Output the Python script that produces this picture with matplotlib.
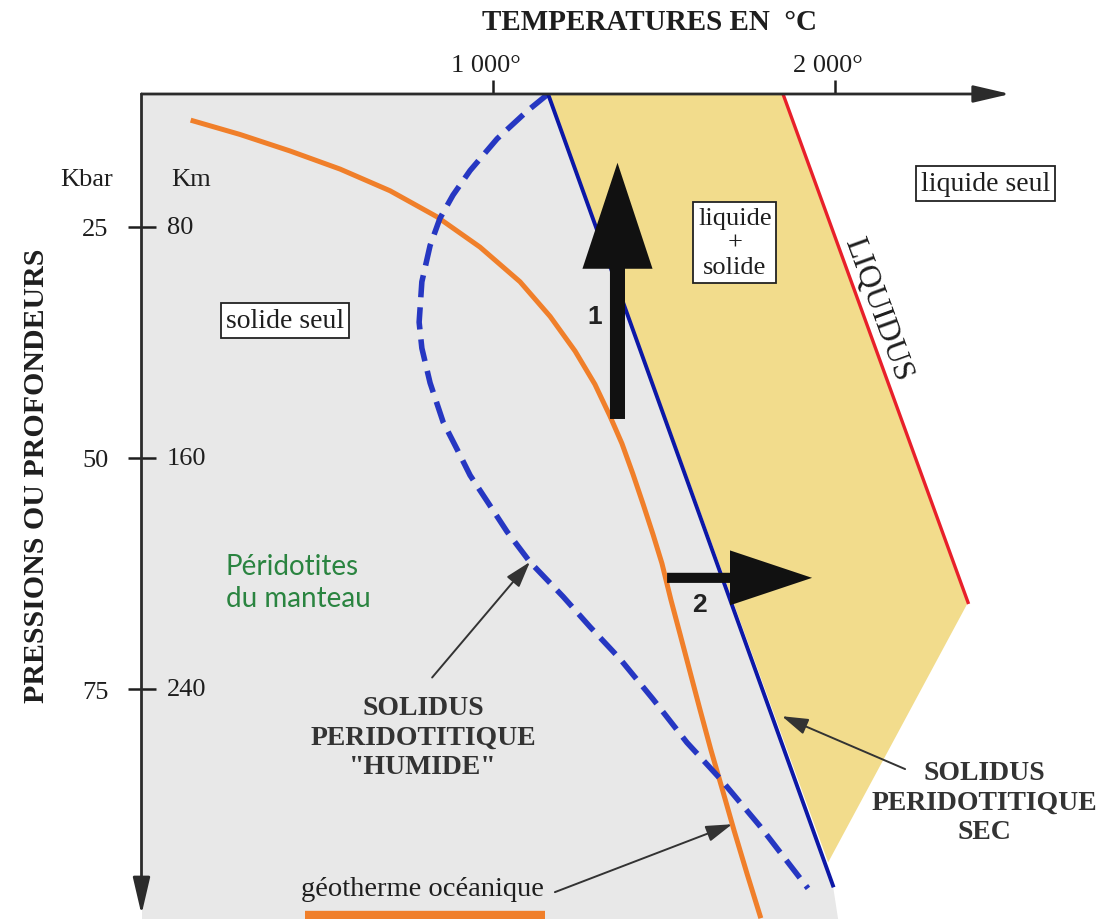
import matplotlib
matplotlib.use("Agg")
import matplotlib.pyplot as plt
from matplotlib.patches import Polygon, FancyArrow
from matplotlib.transforms import ScaledTranslation

# ---------------- data ----------------
temp_ticks = [1000, 2000]
temp_tick_labels = ["1 000°", "2 000°"]
depth_ticks_km = [80, 160, 240]
pressure_labels_kbar = ["25", "50", "75"]
depth_labels_km = ["80", "160", "240"]

# oceanic geotherm (temperature °C, depth km)
geotherm_T = [123, 260, 406, 553, 699, 836, 962, 1079, 1167, 1240, 1298, 1342,
              1377, 1409, 1439, 1468, 1494, 1520, 1547, 1576, 1605, 1637, 1670,
              1705, 1743, 1781]
geotherm_km = [43.3, 48, 53.7, 60, 67.5, 76.5, 87, 99, 111, 123, 134.5, 145.5,
               155, 165.5, 176, 186.5, 196.5, 209, 221, 234, 247, 261, 274.5,
               289, 304, 318.5]

# "wet" peridotite solidus
wet_solidus_T = [1161, 1099, 1012, 933, 883, 845, 816, 792, 784, 792, 816, 854,
                 895, 933, 983, 1041, 1108, 1205, 1284, 1371, 1468, 1567, 1664,
                 1781, 1921]
wet_solidus_km = [34, 40, 49.5, 60.5, 69, 77, 86.5, 99, 113, 122, 134, 147.5,
                  157, 166, 175, 185.5, 196, 208, 218.5, 229.5, 243.5, 258.5,
                  271, 287.5, 309]

# dry peridotite solidus and liquidus
dry_solidus_T = [1161, 1994]
dry_solidus_km = [34, 308]
liquidus_T = [1848, 2389]
liquidus_km = [34, 210]
melt_zone_T = [1161, 1848, 2389, 1980]
melt_zone_km = [34, 34, 210, 300]

# ---------------- layout ----------------
W, H = 1117, 920
T_MIN, T_MAX = -27.8, 2824.6
KM_TOP, KM_BOT = 34.0, 319.6
T_AXIS_END = 2512
KM_AXIS_END = 318

plt.rcParams["font.family"] = ["Liberation Serif", "DejaVu Serif"]
TXT = "#1e1e1e"

fig = plt.figure(figsize=(W / 100, H / 100), dpi=100)
fig.patch.set_facecolor("white")
ax = fig.add_axes([141.5 / W, 0, 1 - 141.5 / W, 1 - 95 / H])
ax.set_xlim(T_MIN, T_MAX)
ax.set_ylim(KM_BOT, KM_TOP)
ax.patch.set_alpha(0)
for s in ax.spines.values():
    s.set_visible(False)

# grey (solid only) background region
grey = Polygon([(T_MIN, KM_TOP), (dry_solidus_T[0], dry_solidus_km[0]),
                (dry_solidus_T[1], dry_solidus_km[1]), (dry_solidus_T[1] + 15, KM_BOT),
                (T_MIN, KM_BOT)], closed=True, fc="#e8e8e8", ec="none", zorder=0)
ax.add_patch(grey)

# melting zone
ax.add_patch(Polygon(list(zip(melt_zone_T, melt_zone_km)), closed=True,
                     fc="#f2dc8c", ec="none", zorder=1))

# curves
ax.plot(dry_solidus_T, dry_solidus_km, color="#0c17a6", lw=2.8, zorder=4)
ax.plot(liquidus_T, liquidus_km, color="#e8202a", lw=2.4, zorder=4)
ax.plot(geotherm_T, geotherm_km, color="#f07f2a", lw=3.6, zorder=3,
        solid_joinstyle="round")
ax.plot(wet_solidus_T, wet_solidus_km, color="#2637c2", lw=4, dashes=(4, 1.8), zorder=3)

# axes with arrows
ap_axis = dict(arrowstyle="-|>,head_length=1.5,head_width=0.35", color="#2b2b2b",
               lw=2, shrinkA=0, shrinkB=0, mutation_scale=15)
ax.annotate("", xy=(T_AXIS_END, KM_TOP), xytext=(T_MIN, KM_TOP),
            arrowprops=ap_axis, annotation_clip=False, zorder=6)
ax.annotate("", xy=(T_MIN, KM_AXIS_END), xytext=(T_MIN, KM_TOP),
            arrowprops=ap_axis, annotation_clip=False, zorder=6)

# ticks
ax.xaxis.tick_top()
ax.set_xticks(temp_ticks, temp_tick_labels)
ax.tick_params(axis="x", direction="out", length=10, width=1.8, pad=3,
               labelsize=19, colors=TXT)
for lbl in ax.get_xticklabels():
    lbl.set_transform(lbl.get_transform() + ScaledTranslation(-0.07, 0, fig.dpi_scale_trans))
ax.set_yticks(depth_ticks_km, pressure_labels_kbar)
ax.tick_params(axis="y", direction="inout", length=20, width=1.8, pad=14,
               labelsize=19, colors=TXT)
for d, lab in zip(depth_ticks_km, depth_labels_km):
    ax.text(47, d, lab, ha="left", va="center", fontsize=19, color=TXT)

fig.text(87 / W, 1 - 180 / H, "Kbar", ha="center", va="center", fontsize=19, color=TXT)
fig.text(191 / W, 1 - 180 / H, "Km", ha="center", va="center", fontsize=19, color=TXT)
fig.text(650 / W, 1 - 22 / H, "TEMPERATURES EN  °C", ha="center", va="center",
         fontsize=21, fontweight="bold", color=TXT)
fig.text(37 / W, 1 - 476 / H, "PRESSIONS OU PROFONDEURS", ha="center", va="center",
         rotation=90, fontsize=21.5, fontweight="bold", color=TXT)

# big arrows 1 and 2
ax.add_patch(FancyArrow(1364, 146.5, 0, 57.8 - 146.5, width=44, head_width=205,
                        head_length=36.7, length_includes_head=True,
                        fc="#111111", ec="none", zorder=5))
ax.add_patch(FancyArrow(1509, 201.5, 1933 - 1509, 0, width=3.5, head_width=19,
                        head_length=240, length_includes_head=True,
                        fc="#111111", ec="none", zorder=5))
ax.text(1298, 111, "1", ha="center", va="center", fontsize=19, fontweight="bold",
        family=["Liberation Sans"], color="#222", zorder=6)
ax.text(1605, 210.6, "2", ha="center", va="center", fontsize=19, fontweight="bold",
        family=["Liberation Sans"], color="#222", zorder=6)

# boxed labels
box = dict(boxstyle="square,pad=0.18", fc="white", ec="#222", lw=1.3)
ax.text(392, 112.5, "solide seul", ha="center", va="center", fontsize=20,
        color=TXT, bbox=box, zorder=6)
ax.text(1707, 85.5, "liquide\n+\nsolide", ha="center", va="center", fontsize=19,
        color=TXT, linespacing=1.15, bbox=box, zorder=6)
ax.text(2441, 65.1, "liquide seul", ha="center", va="center", fontsize=20,
        color=TXT, bbox=box, zorder=6)

ax.text(2126, 108.4, "LIQUIDUS", ha="center", va="center", rotation=-70,
        rotation_mode="anchor", fontsize=23, color=TXT, zorder=6)

ax.text(219, 203, "Péridotites\ndu manteau", ha="left", va="center", fontsize=20,
        color="#2a8440", family=["Lato", "DejaVu Sans"], linespacing=1.3, zorder=6)

ax.text(795, 256.6, 'SOLIDUS\nPERIDOTITIQUE\n"HUMIDE"', ha="center", va="center",
        fontsize=20, fontweight="bold", color="#333333", linespacing=1.25, zorder=6)
ax.text(2438, 279.1, "SOLIDUS\nPERIDOTITIQUE\nSEC", ha="center", va="center",
        fontsize=20, fontweight="bold", color="#333333", linespacing=1.25, zorder=6)
ax.text(795, 309.2, "géotherme océanique", ha="center", va="center",
        fontsize=20.5, color=TXT, zorder=6)

ap_small = dict(arrowstyle="-|>,head_length=0.8,head_width=0.25", color="#333",
                lw=1.4, mutation_scale=20, shrinkA=0, shrinkB=0)
ax.annotate("", xy=(1108, 196), xytext=(822, 236), arrowprops=ap_small, zorder=6)
ax.annotate("", xy=(1845, 249.4), xytext=(2205, 267.7), arrowprops=ap_small, zorder=6)
ax.annotate("", xy=(1699, 286.8), xytext=(1181, 310.3), arrowprops=ap_small, zorder=6)

# legend swatch for geotherm
ax.plot([450, 1152], [318.3, 318.3], color="#f07f2a", lw=6, solid_capstyle="butt",
        clip_on=False, zorder=6)

fig.savefig("out.png", dpi=100, facecolor="white")
